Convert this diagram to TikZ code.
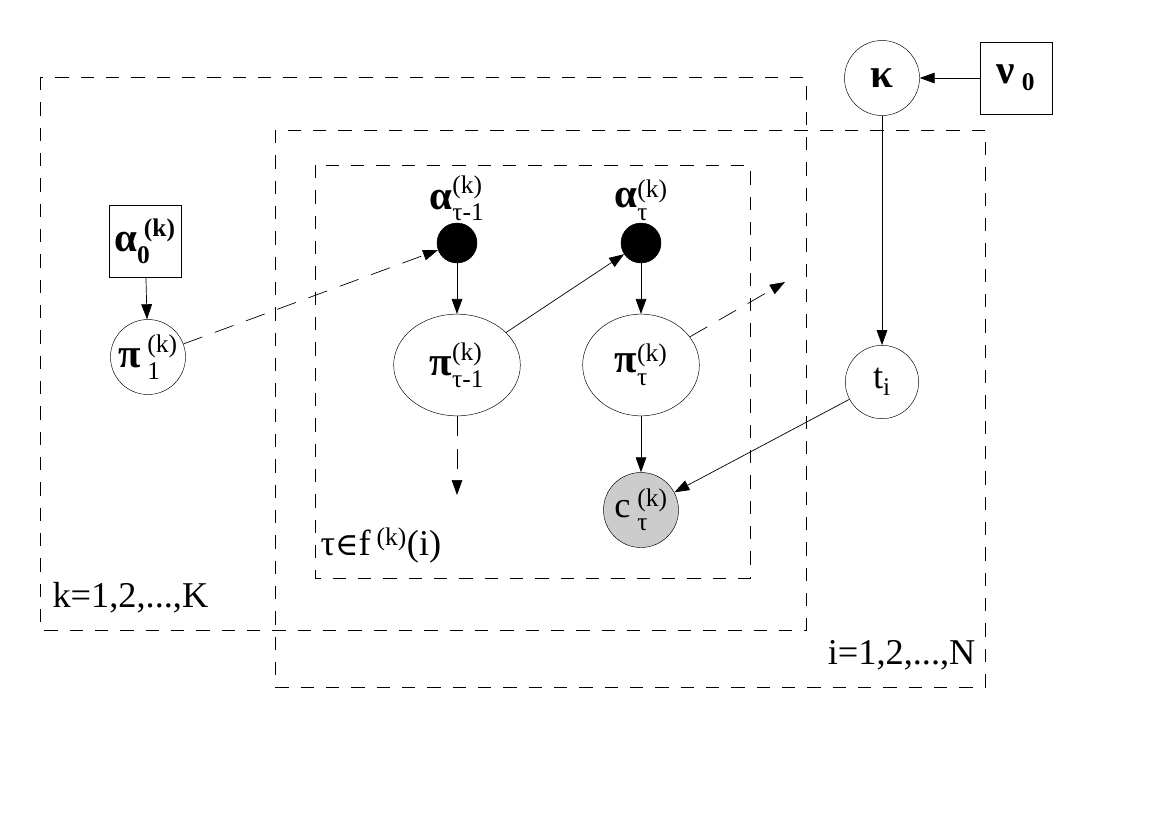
\documentclass[tikz,border=0pt]{standalone}
\usepackage{amsmath}
\usepackage{fontspec}
\setmainfont{Liberation Serif}
\newfontfamily\symfont{DejaVu Serif}
\usepackage{tikz}
\usetikzlibrary{arrows.meta,positioning,shapes.geometric}

\tikzset{
  latent/.style={draw, circle, minimum size=2.25cm, inner sep=0pt, fill=white},
  wide/.style={draw, ellipse, minimum width=3.5cm, minimum height=3.05cm, inner sep=0pt, fill=white},
  obs/.style={latent, fill=black!20},
  dot/.style={draw, circle, fill=black, minimum size=1.2cm, inner sep=0pt},
  hyper/.style={draw, rectangle, minimum size=2.15cm, inner sep=0pt, fill=white},
  plate/.style={dashed, dash pattern=on 0.4cm off 0.36cm, line width=0.6pt},
  edge/.style={-{Triangle[length=0.45cm,width=0.32cm]}, line width=0.6pt},
  dedge/.style={edge, dash pattern=on 0.6cm off 0.4cm},
}
\newcommand{\gb}[1]{\text{\bfseries #1}}
\newcommand{\gl}[1]{\text{\fontsize{35}{40}\selectfont\bfseries #1}}
\newcommand{\lowtau}{\text{\raisebox{-5pt}{τ}}}

\begin{document}
\begin{tikzpicture}[x=0.03cm, y=-0.03cm, font=\fontsize{31}{36}\selectfont]
  \useasboundingbox (0,0) rectangle (1169,826);

  % plates
  \draw[plate] (40,77) rectangle (806,630);
  \draw[plate] (275,130) rectangle (985,687);
  \draw[plate] (315,165) rectangle (750,578);
  \node[anchor=south west, inner sep=2pt] (kplate) at (50,616) {k=1,2,...,K};
  \node[anchor=south east, inner sep=2pt] (iplate) at (978,673) {i=1,2,...,N};
  \node[anchor=south west, inner sep=2pt] (tplate) at (318,566) {τ{\symfont\fontsize{27}{30}\selectfont ∈}f\,$^{\text{(k)}}$(i)};

  % nodes
  \node[hyper] (alpha0) at (145,241) {$\gl{α}_{\gb{0}}^{\;\gb{(k)}}$};
  \node[latent, minimum size=2.25cm] (pi1) at (148,357) {$\gl{π}_{\;\text{1}}^{\;\text{(k)}}$};
  \node[dot] (a1) at (457,243) {};
  \node[above=-2pt of a1] (la1) {$\gl{α}_{\text{τ-1}}^{\text{(k)}}$};
  \node[dot] (a2) at (641,243) {};
  \node[above=-2pt of a2] (la2) {$\gl{α}_{\lowtau}^{\text{(k)}}$};
  \node[wide, minimum width=3.8cm] (pi2) at (457,365) {$\gl{π}_{\text{τ-1}}^{\text{(k)}}$};
  \node[wide] (pi3) at (641,365) {$\gl{π}_{\lowtau}^{\text{(k)}}$};
  \node[obs] (c) at (641,510) {c$_{\;\lowtau}^{\;\text{(k)}}$};
  \node[latent] (kappa) at (882,78) {$\gl{κ}$};
  \node[hyper] (nu0) at (1016,78) {$\gl{ν}_{\;\gb{0}}$};
  \node[latent, minimum size=2.2cm] (t) at (882,382) {t$_{\text{i}}$};
  \coordinate (down) at (457,495);
  \coordinate (next) at (785,282);

  % edges
  \draw[edge] (alpha0) -- (pi1);
  \draw[dedge] (pi1) -- (a1);
  \draw[edge] (a1) -- (pi2);
  \draw[edge] (pi2) -- (a2);
  \draw[edge] (a2) -- (pi3);
  \draw[dedge] (pi2) -- (down);
  \draw[dedge] (pi3) -- (next);
  \draw[edge] (pi3) -- (c);
  \draw[edge] (nu0) -- (kappa);
  \draw[edge] (kappa) -- (t);
  \draw[edge] (t) -- (c);
\end{tikzpicture}
\end{document}
